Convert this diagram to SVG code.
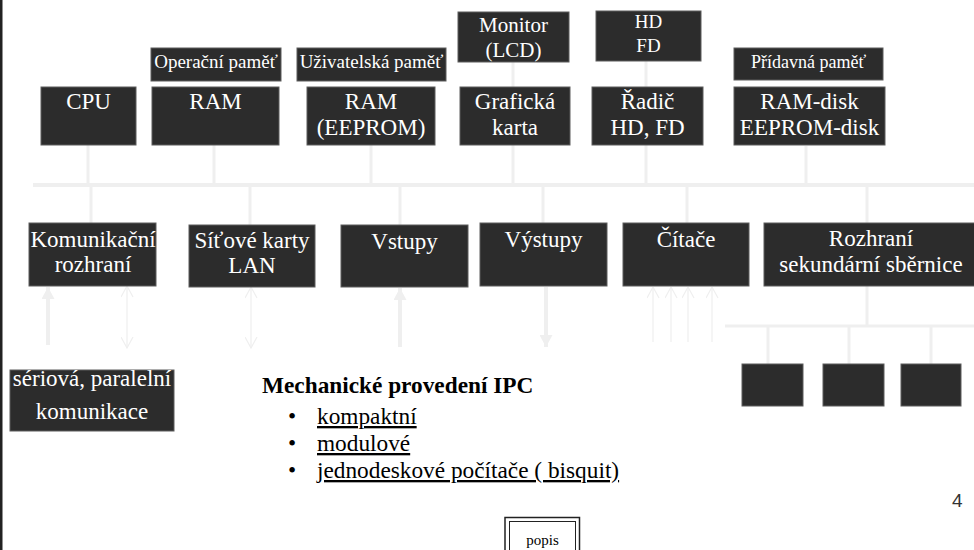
<svg xmlns="http://www.w3.org/2000/svg" width="974" height="550" viewBox="0 0 974 550">
<style>
.box{fill:#2c2c2c;stroke:#5c5c5c;stroke-width:1}
.t{font-family:"Liberation Serif","Times New Roman",serif;fill:#ffffff;text-anchor:middle;font-size:23px}
.s{font-size:19px}
.bus{stroke:#efefef;fill:none}
.blk{font-family:"Liberation Serif","Times New Roman",serif;fill:#000000;font-size:23.3px}
</style>
<defs>
<marker id="hs" viewBox="0 0 12 13" refX="12" refY="6.5" markerWidth="12" markerHeight="13" markerUnits="userSpaceOnUse" orient="auto-start-reverse"><path d="M0,0 L12,6.5 L0,13 z" fill="#efefef"/></marker>
<marker id="ho" viewBox="0 0 12 13" refX="11.5" refY="6.5" markerWidth="12" markerHeight="13" markerUnits="userSpaceOnUse" orient="auto-start-reverse"><path d="M0.5,0.5 L11.5,6.5 L0.5,12.5" fill="none" stroke="#efefef" stroke-width="1.2"/></marker>
</defs>
<rect x="0" y="0" width="974" height="550" fill="#ffffff"/>
<rect x="0" y="0" width="2.5" height="550" fill="#222222"/>

<g id="connectors" class="bus">
<line x1="33" y1="185" x2="974" y2="185" stroke-width="4"/>
<g stroke-width="3">
<line x1="88" y1="145" x2="88" y2="184"/>
<line x1="214" y1="145" x2="214" y2="184"/>
<line x1="371" y1="145" x2="371" y2="184"/>
<line x1="513" y1="145" x2="513" y2="184"/>
<line x1="646" y1="145" x2="646" y2="184"/>
<line x1="806" y1="146" x2="806" y2="184"/>
<line x1="513" y1="62" x2="513" y2="87"/>
<line x1="646" y1="61" x2="646" y2="87"/>
<line x1="91" y1="186" x2="91" y2="223"/>
<line x1="250" y1="186" x2="250" y2="225"/>
<line x1="400" y1="186" x2="400" y2="225"/>
<line x1="543" y1="186" x2="543" y2="223"/>
<line x1="687" y1="186" x2="687" y2="223"/>
<line x1="867" y1="186" x2="867" y2="223"/>
<line x1="867" y1="286" x2="867" y2="326"/>
<line x1="725" y1="326" x2="974" y2="326"/>
<line x1="768" y1="327" x2="768" y2="364"/>
<line x1="849" y1="327" x2="849" y2="364"/>
<line x1="931" y1="327" x2="931" y2="364"/>
</g>
<g stroke-width="4">
<line x1="48" y1="345" x2="48" y2="287" marker-end="url(#hs)"/>
<line x1="400" y1="347" x2="400" y2="288" marker-end="url(#hs)"/>
<line x1="546" y1="287" x2="546" y2="347" marker-end="url(#hs)"/>
</g>
<g stroke-width="1.2">
<line x1="127" y1="286" x2="127" y2="348" marker-start="url(#ho)" marker-end="url(#ho)"/>
<line x1="251" y1="287" x2="251" y2="348" marker-start="url(#ho)" marker-end="url(#ho)"/>
<line x1="653" y1="342" x2="653" y2="287" marker-end="url(#ho)"/>
<line x1="671" y1="342" x2="671" y2="287" marker-end="url(#ho)"/>
<line x1="688" y1="342" x2="688" y2="287" marker-end="url(#ho)"/>
<line x1="712" y1="342" x2="712" y2="287" marker-end="url(#ho)"/>
</g>
</g>

<g id="cpu"><rect class="box" x="41" y="87" width="95" height="58"/><text class="t" x="88.5" y="109">CPU</text></g>
<g id="lbl-operacni"><rect class="box" x="151" y="48" width="130" height="33"/><text class="t s" x="216" y="68">Operační paměť</text></g>
<g id="ram"><rect class="box" x="152" y="87" width="127" height="58"/><text class="t" x="215.5" y="109">RAM</text></g>
<g id="lbl-uzivatelska"><rect class="box" x="297" y="48" width="149" height="33"/><text class="t s" x="371.5" y="68">Uživatelská paměť</text></g>
<g id="ram-eeprom"><rect class="box" x="307" y="87" width="128" height="58"/><text class="t" x="371" y="109">RAM</text><text class="t" x="371" y="135">(EEPROM)</text></g>
<g id="monitor"><rect class="box" x="458" y="12" width="111" height="50"/><text class="t" x="513.5" y="32" style="font-size:21px">Monitor</text><text class="t" x="513.5" y="57" style="font-size:21px">(LCD)</text></g>
<g id="graficka"><rect class="box" x="460" y="87" width="110" height="58"/><text class="t" x="515" y="109">Grafická</text><text class="t" x="515" y="135">karta</text></g>
<g id="hdfd"><rect class="box" x="596" y="11" width="105" height="50"/><text class="t s" x="648.5" y="28">HD</text><text class="t s" x="648.5" y="52">FD</text></g>
<g id="radic"><rect class="box" x="592" y="87" width="111" height="58"/><text class="t" x="647.5" y="109">Řadič</text><text class="t" x="647.5" y="135">HD, FD</text></g>
<g id="lbl-pridavna"><rect class="box" x="734" y="48" width="149" height="32"/><text class="t" x="808.5" y="68" style="font-size:18px">Přídavná paměť</text></g>
<g id="ramdisk"><rect class="box" x="734" y="87" width="151" height="58"/><text class="t" x="809.5" y="109">RAM-disk</text><text class="t" x="809.5" y="135">EEPROM-disk</text></g>

<g id="komunikacni"><rect class="box" x="29" y="223" width="127" height="63"/><text class="t" x="93" y="247">Komunikační</text><text class="t" x="93" y="272">rozhraní</text></g>
<g id="sitove"><rect class="box" x="189" y="225" width="126" height="62"/><text class="t" x="252" y="248">Síťové karty</text><text class="t" x="252" y="273">LAN</text></g>
<g id="vstupy"><rect class="box" x="341" y="225" width="127" height="62"/><text class="t" x="404.5" y="249">Vstupy</text></g>
<g id="vystupy"><rect class="box" x="480" y="223" width="127" height="63"/><text class="t" x="543.5" y="247">Výstupy</text></g>
<g id="citace"><rect class="box" x="623" y="223" width="126" height="63"/><text class="t" x="686" y="247">Čítače</text></g>
<g id="rozhrani"><rect class="box" x="764" y="223" width="211" height="63"/><text class="t" x="871" y="246">Rozhraní</text><text class="t" x="871" y="272">sekundární sběrnice</text></g>

<g id="seriova"><rect class="box" x="10" y="370" width="164" height="61"/><text class="t" x="92" y="386">sériová, paralelní</text><text class="t" x="92" y="419">komunikace</text></g>
<g id="modul1"><rect class="box" x="742" y="364" width="61" height="42"/></g>
<g id="modul2"><rect class="box" x="823" y="364" width="61" height="42"/></g>
<g id="modul3"><rect class="box" x="901" y="364" width="60" height="42"/></g>

<g id="provedeni">
<text class="blk" x="262" y="393" font-weight="bold">Mechanické provedení IPC</text>
<text class="blk" x="288" y="424">•</text>
<text class="blk" x="317" y="424" text-decoration="underline">kompaktní</text>
<text class="blk" x="288" y="451">•</text>
<text class="blk" x="317" y="451" text-decoration="underline">modulové</text>
<text class="blk" x="288" y="478">•</text>
<text class="blk" x="317" y="478" text-decoration="underline">jednodeskové počítače ( bisquit)</text>
</g>

<text x="952" y="507" style="font-family:'Liberation Sans',Arial,sans-serif;font-size:19px" fill="#333333">4</text>

<g id="popis">
<rect x="505" y="517.5" width="74.5" height="45" fill="#ffffff" stroke="#222222" stroke-width="1.5"/>
<rect x="509.5" y="521.5" width="66" height="40" fill="none" stroke="#222222" stroke-width="1"/>
<text x="542.5" y="545" text-anchor="middle" style="font-family:'Liberation Serif','Times New Roman',serif;font-size:15px" fill="#000000">popis</text>
</g>
</svg>
